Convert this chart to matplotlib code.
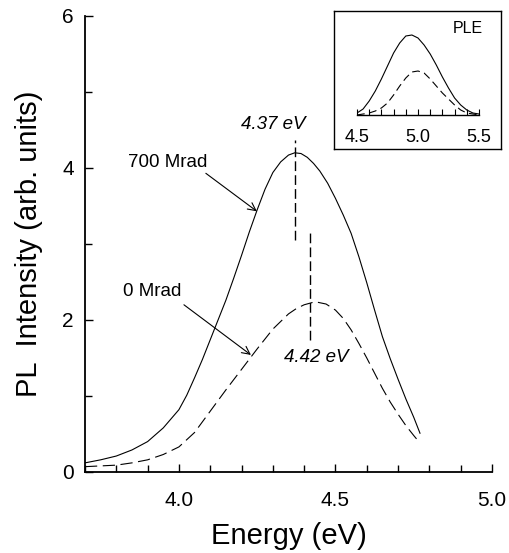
import matplotlib
matplotlib.use("Agg")
import matplotlib.pyplot as plt
from matplotlib.ticker import MultipleLocator

plt.rcParams["font.family"] = ["Liberation Sans", "DejaVu Sans"]

# main PL spectra
energy = [3.70, 3.75, 3.80, 3.85, 3.90, 3.95, 4.00, 4.025, 4.05, 4.075, 4.10,
          4.125, 4.15, 4.175, 4.20, 4.225, 4.25, 4.275, 4.30, 4.325, 4.35,
          4.37, 4.39, 4.41, 4.43, 4.45, 4.475, 4.50, 4.525, 4.55, 4.575, 4.60,
          4.625, 4.65, 4.675, 4.70, 4.725, 4.75, 4.77]
pl_700 = [0.12, 0.16, 0.21, 0.29, 0.40, 0.58, 0.82, 1.01, 1.24, 1.48, 1.74,
          2.00, 2.26, 2.55, 2.85, 3.16, 3.45, 3.72, 3.94, 4.08, 4.17,
          4.20, 4.19, 4.14, 4.06, 3.96, 3.80, 3.60, 3.38, 3.14, 2.83, 2.49,
          2.13, 1.78, 1.49, 1.22, 0.96, 0.72, 0.51]

energy_0 = [3.70, 3.75, 3.80, 3.85, 3.90, 3.95, 4.00, 4.05, 4.10, 4.15, 4.20,
            4.25, 4.30, 4.35, 4.375, 4.40, 4.435, 4.47, 4.50, 4.525, 4.55,
            4.575, 4.60, 4.625, 4.65, 4.675, 4.70, 4.725, 4.75, 4.77]
pl_0 = [0.07, 0.08, 0.09, 0.12, 0.16, 0.23, 0.33, 0.52, 0.80, 1.08, 1.35,
        1.62, 1.88, 2.08, 2.15, 2.20, 2.24, 2.21, 2.13, 2.02, 1.87,
        1.69, 1.50, 1.30, 1.10, 0.92, 0.76, 0.61, 0.48, 0.38]

peak_700 = 4.37
peak_0 = 4.42

# inset PLE spectra
ple_energy = [4.50, 4.55, 4.60, 4.65, 4.70, 4.75, 4.80, 4.85, 4.90, 4.95, 5.00,
              5.05, 5.10, 5.15, 5.20, 5.25, 5.30, 5.35, 5.40, 5.45, 5.50]
ple_700 = [0.02, 0.06, 0.14, 0.24, 0.36, 0.49, 0.62, 0.72, 0.79, 0.80, 0.77,
           0.70, 0.61, 0.50, 0.38, 0.27, 0.17, 0.10, 0.05, 0.02, 0.01]
ple_0 = [0.00, 0.01, 0.02, 0.04, 0.07, 0.12, 0.20, 0.29, 0.37, 0.43, 0.44,
         0.42, 0.36, 0.29, 0.22, 0.16, 0.10, 0.05, 0.02, 0.01, 0.00]

fig = plt.figure(figsize=(5.09, 5.53), dpi=100)
ax = fig.add_axes([0.167, 0.1465, 0.7996, 0.8246])

ax.plot(energy, pl_700, color="black", lw=0.8)
ax.plot(energy_0, pl_0, color="black", lw=0.8, linestyle=(0, (11, 5)))

# peak markers
ax.plot([peak_700, peak_700], [3.05, 4.37], color="black", lw=1.0,
        linestyle=(0, (7, 3)))
ax.plot([peak_0, peak_0], [1.74, 3.16], color="black", lw=1.0,
        linestyle=(0, (7, 3)))
ax.text(4.30, 4.57, "4.37 eV", style="italic", fontsize=13.5,
        ha="center", va="center")
ax.text(4.44, 1.50, "4.42 eV", style="italic", fontsize=13.5,
        ha="center", va="center")

# series labels with arrows
ax.text(3.965, 4.07, "700 Mrad", fontsize=13.5, ha="center", va="center")
ax.text(3.914, 2.37, "0 Mrad", fontsize=13.5, ha="center", va="center")
arrow = dict(arrowstyle="->", color="black", lw=0.8, mutation_scale=14,
             shrinkA=0, shrinkB=0)
ax.annotate("", xy=(4.249, 3.43), xytext=(4.086, 3.93), arrowprops=arrow)
ax.annotate("", xy=(4.23, 1.54), xytext=(4.016, 2.20), arrowprops=arrow)

ax.set_xlim(3.7, 5.0)
ax.set_ylim(0, 6)
ax.xaxis.set_major_locator(MultipleLocator(0.5))
ax.xaxis.set_minor_locator(MultipleLocator(0.1))
ax.yaxis.set_major_locator(MultipleLocator(2))
ax.yaxis.set_minor_locator(MultipleLocator(1))
ax.xaxis.set_major_formatter(plt.FormatStrFormatter("%.1f"))
ax.tick_params(which="both", direction="in", width=1.0, labelsize=15)
ax.tick_params(which="major", length=6)
ax.tick_params(which="minor", length=5)
ax.tick_params(axis="x", pad=14)
ax.tick_params(axis="y", pad=8)
for side in ["top", "right"]:
    ax.spines[side].set_visible(False)
for side in ["left", "bottom"]:
    ax.spines[side].set_linewidth(1.3)

ax.set_xlabel("Energy (eV)", fontsize=21, labelpad=8)
ax.set_ylabel("PL  Intensity (arb. units)", fontsize=21, labelpad=14)

# inset frame
box = fig.add_axes([334 / 509, 1 - 149 / 553, 167 / 509, 138 / 553])
box.set_xticks([])
box.set_yticks([])
for s in box.spines.values():
    s.set_linewidth(1.0)
box.text(0.80, 0.87, "PLE", fontsize=11.5, ha="center", va="center",
         transform=box.transAxes)

ins = fig.add_axes([357 / 509, 1 - 115 / 553, 122 / 509, 100 / 553])
ins.patch.set_visible(False)
ins.plot(ple_energy, ple_700, color="black", lw=0.8)
ins.plot(ple_energy, ple_0, color="black", lw=0.8, linestyle=(0, (7, 4)))
ins.set_xlim(4.5, 5.5)
ins.set_ylim(0, 1)
ins.xaxis.set_major_locator(MultipleLocator(0.5))
ins.xaxis.set_minor_locator(MultipleLocator(0.1))
ins.xaxis.set_major_formatter(plt.FormatStrFormatter("%.1f"))
ins.set_yticks([])
ins.tick_params(which="both", direction="in", length=4, width=0.8,
                labelsize=13, pad=10)
for side in ["top", "right", "left"]:
    ins.spines[side].set_visible(False)
ins.spines["bottom"].set_linewidth(1.0)

fig.savefig("out.png", dpi=100)
